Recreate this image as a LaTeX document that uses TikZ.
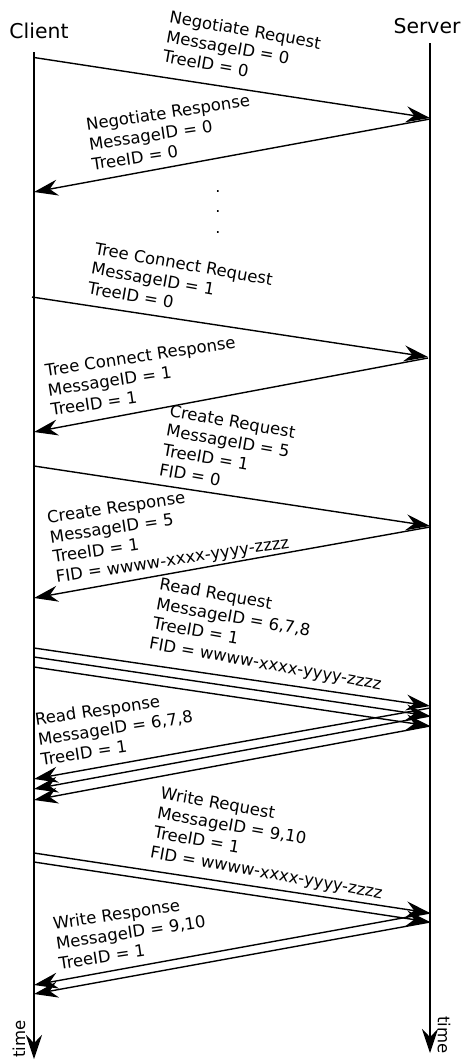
\documentclass[tikz,border=0pt]{standalone}
\usepackage{fontspec}
\setmainfont{DejaVu Sans}
\usetikzlibrary{arrows.meta}
\begin{document}
\begin{tikzpicture}[x=1pt,y=-1pt,
  tip/.style={-{Stealth[length=24pt,width=16pt,inset=8pt]}},
  msg/.style={line width=1.4pt,tip},
  lifeline/.style={line width=1.4pt,tip},
  req/.style={inner sep=0pt,anchor=north west,align=left,rotate=-10,font=\fontsize{16.5}{20}\selectfont},
  resp/.style={inner sep=0pt,anchor=north west,align=left,rotate=8.5,font=\fontsize{16.5}{20}\selectfont},
  actor/.style={inner sep=0pt,font=\fontsize{20.4}{24}\selectfont},
  timelabel/.style={inner sep=0pt,font=\fontsize{16.5}{19}\selectfont},
  dot/.style={inner sep=0pt,font=\fontsize{16}{19}\selectfont}]
\useasboundingbox (0,0) rectangle (462,1061);
% actors
\node[actor] (client) at (39,31) {Client};
\node[actor] (server) at (427,26) {Server};
% lifelines
\coordinate (ctop) at (34,52);
\coordinate (cbot) at (34,1059);
\coordinate (stop) at (430,43);
\coordinate (sbot) at (430,1053);
\draw[lifeline] (ctop) -- (cbot);
\draw[lifeline] (stop) -- (sbot);
\node[timelabel,rotate=90] (ctime) at (19,1039) {time};
\node[timelabel,rotate=-90] (stime) at (444,1035) {time};
% endpoints
\coordinate (c1) at (34,57.5);  \coordinate (s1) at (430,118);
\coordinate (s2) at (430,119);  \coordinate (c2) at (34,192);
\coordinate (c3) at (32,297);   \coordinate (s3) at (428,357);
\coordinate (s4) at (428,358);  \coordinate (c4) at (34,432);
\coordinate (c5) at (34,466);   \coordinate (s5) at (430,526);
\coordinate (s6) at (430,527);  \coordinate (c6) at (34,598);
\coordinate (c7a) at (34,648);  \coordinate (s7a) at (430,706);
\coordinate (c7b) at (34,657);  \coordinate (s7b) at (430,716);
\coordinate (c7c) at (34,667);  \coordinate (s7c) at (430,726);
\coordinate (s8a) at (430,708); \coordinate (c8a) at (34,779);
\coordinate (s8b) at (430,716); \coordinate (c8b) at (34,789);
\coordinate (s8c) at (430,726); \coordinate (c8c) at (34,800);
\coordinate (c9a) at (34,853);  \coordinate (s9a) at (430,913);
\coordinate (c9b) at (34,862);  \coordinate (s9b) at (430,922);
\coordinate (s10a) at (430,913); \coordinate (c10a) at (34,985);
\coordinate (s10b) at (430,922); \coordinate (c10b) at (34,994);
% messages
\draw[msg] (c1) -- (s1);
\draw[msg] (s2) -- (c2);
\draw[msg] (c3) -- (s3);
\draw[msg] (s4) -- (c4);
\draw[msg] (c5) -- (s5);
\draw[msg] (s6) -- (c6);
\draw[msg] (c7a) -- (s7a);
\draw[msg] (c7b) -- (s7b);
\draw[msg] (c7c) -- (s7c);
\draw[msg] (s8a) -- (c8a);
\draw[msg] (s8b) -- (c8b);
\draw[msg] (s8c) -- (c8c);
\draw[msg] (c9a) -- (s9a);
\draw[msg] (c9b) -- (s9b);
\draw[msg] (s10a) -- (c10a);
\draw[msg] (s10b) -- (c10b);
% dots
\node[dot] (d1) at (218,192) {.};
\node[dot] (d2) at (218,212) {.};
\node[dot] (d3) at (218,233) {.};
% labels
\node[req] (l1) at (171,10) {Negotiate Request\\MessageID = 0\\TreeID = 0};
\node[resp] (l2) at (85,118) {Negotiate Response\\MessageID = 0\\TreeID = 0};
\node[req] (l3) at (96,242) {Tree Connect Request\\MessageID = 1\\TreeID = 0};
\node[resp] (l4) at (44,364) {Tree Connect Response\\MessageID = 1\\TreeID = 1};
\node[req] (l5) at (171,404) {Create Request\\MessageID = 5\\TreeID = 1\\FID = 0};
\node[resp] (l6) at (46,511) {Create Response\\MessageID = 5\\TreeID = 1\\FID = wwww-xxxx-yyyy-zzzz};
\node[req] (l7) at (161,577) {Read Request\\MessageID = 6,7,8\\TreeID = 1\\FID = wwww-xxxx-yyyy-zzzz};
\node[resp] (l8) at (34,713) {Read Response\\MessageID = 6,7,8\\TreeID = 1};
\node[req] (l9) at (162,786) {Write Request\\MessageID = 9,10\\TreeID = 1\\FID = wwww-xxxx-yyyy-zzzz};
\node[resp] (l10) at (52,917) {Write Response\\MessageID = 9,10\\TreeID = 1};
\end{tikzpicture}
\end{document}
